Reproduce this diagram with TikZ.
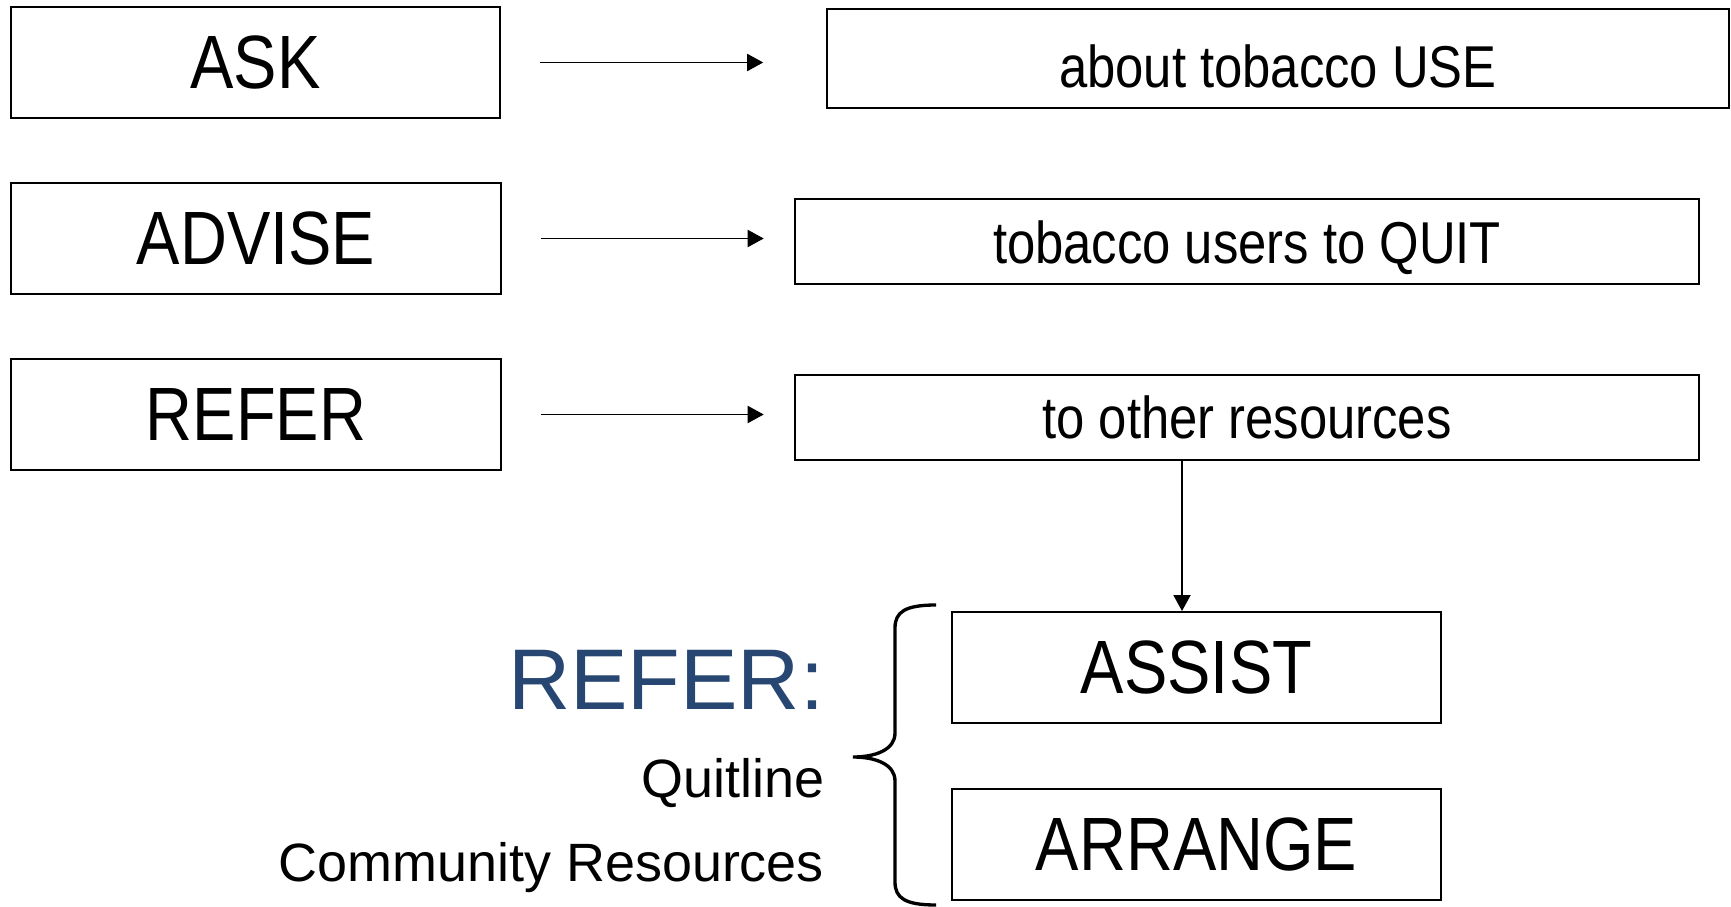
\documentclass[tikz,border=0pt]{standalone}
\usepackage{fontspec}
\setmainfont{Liberation Sans}
\newfontfamily\boxfont[FakeStretch=0.86]{Liberation Sans}
\usetikzlibrary{
    arrows.meta,
    calc,
    positioning
}
\definecolor{referblue}{RGB}{39,70,114}
\tikzset{
    every picture/.style = {
        > = {Triangle[length = 0.32cm, width = 0.34cm]},
        line width = 1.1pt
    },
    actbox/.style = {
        draw,
        inner sep = 0pt,
        minimum width = 9.79cm,
        minimum height = 2.22cm,
        font = \boxfont\fontsize{43}{50}\selectfont
    },
    descbox/.style = {
        draw,
        inner sep = 0pt,
        minimum width = 18.08cm,
        minimum height = 1.70cm,
        font = \boxfont\fontsize{33.6}{40}\selectfont
    },
    lowtext/.style = {
        text height = #1
    },
    sidetext/.style = {
        inner sep = 0pt,
        anchor = base east,
        font = \fontsize{30.7}{36}\selectfont
    }
}

\begin{document}
\begin{tikzpicture}
    \useasboundingbox (0, 0) rectangle (34.62, -18.14);

    \node[actbox] (ask) at (5.11, -1.25) {ASK};
    \node[actbox] (advise) at (5.12, -4.77) {ADVISE};
    \node[actbox] (refer) at (5.12, -8.29) {REFER};

    \node[descbox, lowtext = 1.17cm, minimum width = 18.04cm, minimum height = 1.98cm] (about) at (25.56, -1.17) {about tobacco USE};
    \node[descbox, lowtext = 1.10cm] (quit) at (24.94, -4.83) {tobacco users to QUIT};
    \node[descbox] (other) at (24.94, -8.35) {to other resources};

    \node[actbox] (assist) at (23.93, -13.35) {ASSIST};
    \node[actbox] (arrange) at (23.93, -16.89) {ARRANGE};

    \draw[->] ([xshift = 0.78cm]ask.east) -- ++(4.46, 0);
    \draw[->] ([xshift = 0.78cm]advise.east) -- ++(4.46, 0);
    \draw[->] ([xshift = 0.78cm]refer.east) -- ++(4.46, 0);
    \draw[->] ([xshift = -1.3cm]other.south) -- ([xshift = -1.3cm]other.south |- assist.north);

    \node[sidetext, text = referblue, font = \fontsize{49}{56}\selectfont] (refhead) at (16.5, -14.18) {REFER:};
    \node[sidetext] (quitline) at (16.5, -15.94) {Quitline};
    \node[sidetext] (community) at (16.5, -17.62) {Community Resources};

    % brace
    \draw[line width = 1.9pt] (18.72, -12.10) .. controls (18.1, -12.10) and (17.90, -12.24) .. (17.90, -12.56)
        -- (17.90, -14.66) .. controls (17.90, -15.0) and (17.5, -15.14) .. (17.06, -15.14)
        .. controls (17.5, -15.14) and (17.90, -15.28) .. (17.90, -15.62)
        -- (17.90, -17.64) .. controls (17.90, -17.96) and (18.1, -18.10) .. (18.72, -18.10);
\end{tikzpicture}
\end{document}
